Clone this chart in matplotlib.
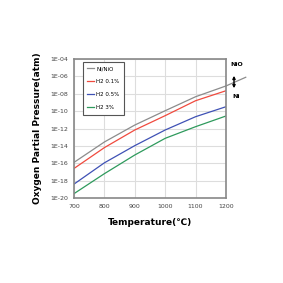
import matplotlib
matplotlib.use("Agg")
import matplotlib.pyplot as plt
import numpy as np

temps = [700, 800, 900, 1000, 1100, 1200]
ni_nio = [-15.9, -13.55, -11.6, -9.95, -8.34, -7.1]
h2_01 = [-16.6, -14.2, -12.17, -10.52, -8.8, -7.65]
h2_05 = [-18.4, -15.95, -13.97, -12.17, -10.64, -9.49]
h2_3 = [-19.5, -17.2, -15.05, -13.13, -11.79, -10.56]
ext_T = [1200, 1265]
ext_v = [-7.1, -6.1]
yticks = [-4, -6, -8, -10, -12, -14, -16, -18, -20]
ytick_labels = ["1E-04", "1E-06", "1E-08", "1E-10", "1E-12", "1E-14", "1E-16", "1E-18", "1E-20"]
xticks = [700, 800, 900, 1000, 1100, 1200]

fig = plt.figure(figsize=(2.83, 2.83), dpi=100)
ax = fig.add_axes([0.2615, 0.3004, 0.537, 0.491])

series = [("Ni/NiO", ni_nio, "#8c8c8c"), ("H2 0.1%", h2_01, "#f04a3e"),
          ("H2 0.5%", h2_05, "#3f51b5"), ("H2 3%", h2_3, "#2e9a5c")]
for name, vals, c in series:
    ax.plot(temps, [10.0**v for v in vals], color=c, lw=0.9, label=name)
ax.plot(ext_T, [10.0**v for v in ext_v], color="#8c8c8c", lw=0.9, clip_on=False)

ax.set_yscale("log")
ax.set_xlim(700, 1200)
ax.set_ylim(1e-20, 1e-4)
ax.set_yticks([10.0**v for v in yticks])
ax.set_yticklabels(ytick_labels)
ax.minorticks_off()
ax.set_xticks(xticks)
ax.tick_params(labelsize=4.5, length=0, pad=4, colors="#444444")
ax.grid(True, color="#dddddd", lw=0.8)
for s in ax.spines.values():
    s.set_color("#888888")
    s.set_linewidth(1.2)

leg = ax.legend(loc="upper left", bbox_to_anchor=(0.06, 0.978), fontsize=4.0,
                handlelength=1.2, handletextpad=0.4, labelspacing=1.45, borderpad=0.75,
                borderaxespad=0, fancybox=False, edgecolor="#555555", framealpha=1)
leg.get_frame().set_linewidth(0.8)

ax.set_xlabel("Temperature(℃)", fontsize=6.5, fontweight="bold", labelpad=7)
ax.set_ylabel("Oxygen Partial Pressure(atm)", fontsize=6.5, fontweight="bold", labelpad=6)

fig.text(236.5/283, 1 - 65/283, "NiO", fontsize=4.5, fontweight="bold", ha="center", va="center")
fig.text(236/283, 1 - 97/283, "Ni", fontsize=4.5, fontweight="bold", ha="center", va="center")
fig.add_artist(matplotlib.patches.FancyArrowPatch((234/283, 1 - 73/283), (234/283, 1 - 91/283),
               transform=fig.transFigure, arrowstyle="<|-|>", mutation_scale=4, color="black", lw=1.0))

fig.savefig("out.png", dpi=100)
